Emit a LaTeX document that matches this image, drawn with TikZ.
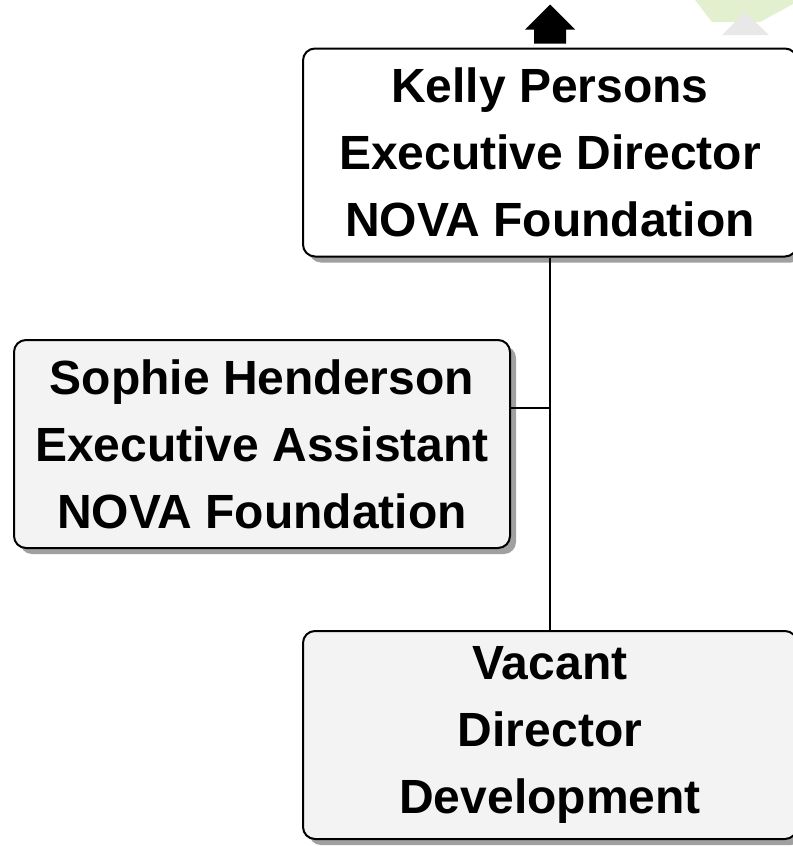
\documentclass[tikz,border=0pt]{standalone}
\usepackage{fontspec}
\setmainfont{Liberation Sans}
\usepackage{xcolor}
\usetikzlibrary{positioning, shadows, calc}

\definecolor{boxgray}{HTML}{F3F3F3}
\definecolor{shadowgray}{HTML}{A0A0A0}
\definecolor{markgreen}{HTML}{E3F0CF}
\definecolor{markgray}{HTML}{E8E8E8}

\begin{document}
\begin{tikzpicture}[x=0.5pt, y=-0.5pt,
  person/.style={draw=black, line width=1pt, rounded corners=6pt,
                 minimum width=247pt, minimum height=104pt, inner sep=0pt,
                 align=center, font=\fontsize{24}{33.5}\selectfont\bfseries,
                 drop shadow={shadow xshift=3pt, shadow yshift=-3pt,
                              fill=shadowgray, opacity=1}},
  link/.style={draw=black, line width=0.6pt}
]
  \useasboundingbox (0,0) rectangle (793,847);

  % faint watermark in the corner
  \fill[markgreen] (695,0) -- (712,22) -- (760,22) -- (793,4) -- (793,0) -- cycle;
  \fill[markgray] (745,12) -- (769,35) -- (722,35) -- cycle;

  % Boxes
  \node[person, fill=white] (kelly) at (550,152.5)
    {Kelly Persons\\Executive Director\\NOVA Foundation};
  \node[person, fill=boxgray, minimum width=248pt] (sophie) at (262,444)
    {Sophie Henderson\\Executive Assistant\\NOVA Foundation};
  \node[person, fill=boxgray] (vacant) at (550,735)
    {Vacant\\Director\\Development};

  % Connectors
  \coordinate (junction) at (550,408);
  \draw[link] (kelly.south) -- (vacant.north);
  \draw[link] (junction) -- (junction -| sophie.east);

  % Link to superior
  \fill[black] ($(kelly.north)+(-16,-4)$) -- ++(0,-14) -- ++(-9,0)
    -- ($(kelly.north)+(0,-43)$) -- ($(kelly.north)+(25,-18)$)
    -- ++(-9,0) -- ++(0,14) -- cycle;
\end{tikzpicture}
\end{document}
